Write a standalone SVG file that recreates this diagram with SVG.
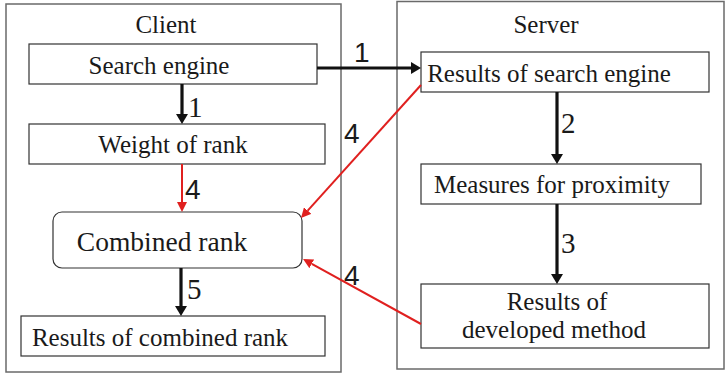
<svg xmlns="http://www.w3.org/2000/svg" width="726" height="374" viewBox="0 0 726 374" font-family="Liberation Serif, Times New Roman, serif">
  <style>
    .frame { fill: #fff; stroke: #6a6a6a; stroke-width: 1.5; }
    .box { fill: #fff; stroke: #333; stroke-width: 1.2; }
    .lbl { font-size: 25px; fill: #1a1a1a; text-anchor: middle; }
    .big { font-size: 27.5px; }
    .num { font-size: 29px; fill: #1a1a1a; }
    .snum { font-size: 28px; fill: #1a1a1a; }
    .blk { stroke: #111; stroke-width: 3.2; fill: none; }
    .red { stroke: #e0201f; stroke-width: 2; fill: none; }
  </style>
  <defs>
    <marker id="headBlack" viewBox="0 0 10 12" refX="0" refY="6" markerWidth="10" markerHeight="12" markerUnits="userSpaceOnUse" orient="auto">
      <path d="M0,0 L10,6 L0,12 z" fill="#111"/>
    </marker>
    <marker id="headRed" viewBox="0 0 10 10" refX="0" refY="5" markerWidth="10" markerHeight="10" markerUnits="userSpaceOnUse" orient="auto">
      <path d="M0,0 L10,5 L0,10 z" fill="#e0201f"/>
    </marker>
  </defs>

  <!-- outer frames -->
  <g id="client">
    <rect class="frame" x="6" y="4" width="335" height="368"/>
    <text class="lbl" x="166" y="33">Client</text>
  </g>
  <g id="server">
    <rect class="frame" x="397" y="1.5" width="327" height="367.5"/>
    <text class="lbl" x="546" y="33">Server</text>
  </g>

  <!-- client nodes -->
  <g id="search-engine">
    <rect class="box" x="29" y="44" width="288" height="40"/>
    <text class="lbl" x="159" y="74">Search engine</text>
  </g>
  <g id="weight-of-rank">
    <rect class="box" x="29" y="124" width="296" height="40"/>
    <text class="lbl" x="173" y="153">Weight of rank</text>
  </g>
  <g id="combined-rank">
    <rect class="box" x="53" y="212" width="249" height="56" rx="9" ry="9"/>
    <text class="lbl big" x="162" y="251">Combined rank</text>
  </g>
  <g id="results-combined">
    <rect class="box" x="21" y="316" width="304" height="40"/>
    <text class="lbl" x="160" y="346">Results of combined rank</text>
  </g>

  <!-- server nodes -->
  <g id="results-search">
    <rect class="box" x="421" y="52" width="288" height="40"/>
    <text class="lbl" x="549" y="82">Results of search engine</text>
  </g>
  <g id="measures">
    <rect class="box" x="421" y="164" width="280" height="40"/>
    <text class="lbl" x="552" y="193">Measures for proximity</text>
  </g>
  <g id="results-developed">
    <rect class="box" x="421" y="284" width="288" height="64"/>
    <text class="lbl" x="557" y="310">Results of</text>
    <text class="lbl" x="554" y="338">developed method</text>
  </g>

  <!-- connectors -->
  <g id="connectors">
    <line class="blk" x1="317" y1="68" x2="411" y2="68" marker-end="url(#headBlack)"/>
    <line class="blk" x1="182" y1="84" x2="182" y2="114" marker-end="url(#headBlack)"/>
    <line class="blk" x1="557" y1="92" x2="557" y2="154" marker-end="url(#headBlack)"/>
    <line class="blk" x1="557" y1="204" x2="557" y2="274" marker-end="url(#headBlack)"/>
    <line class="blk" x1="181" y1="268" x2="181" y2="306" marker-end="url(#headBlack)"/>
    <line class="red" x1="182" y1="164" x2="182" y2="202" marker-end="url(#headRed)"/>
    <line class="red" x1="421" y1="85" x2="307.7" y2="210.6" marker-end="url(#headRed)"/>
    <line class="red" x1="421" y1="324" x2="311.8" y2="263.8" marker-end="url(#headRed)"/>

    <g font-family="Liberation Sans, Arial, sans-serif">
      <text class="snum" x="354" y="62">1</text>
      <text class="snum" x="185" y="199">4</text>
      <text class="snum" x="344" y="143">4</text>
      <text class="snum" x="344" y="285">4</text>
    </g>
    <text class="num" x="188" y="117">1</text>
    <text class="num" x="561" y="133">2</text>
    <text class="num" x="561" y="253">3</text>
    <text class="num" x="187" y="299">5</text>
  </g>
</svg>
